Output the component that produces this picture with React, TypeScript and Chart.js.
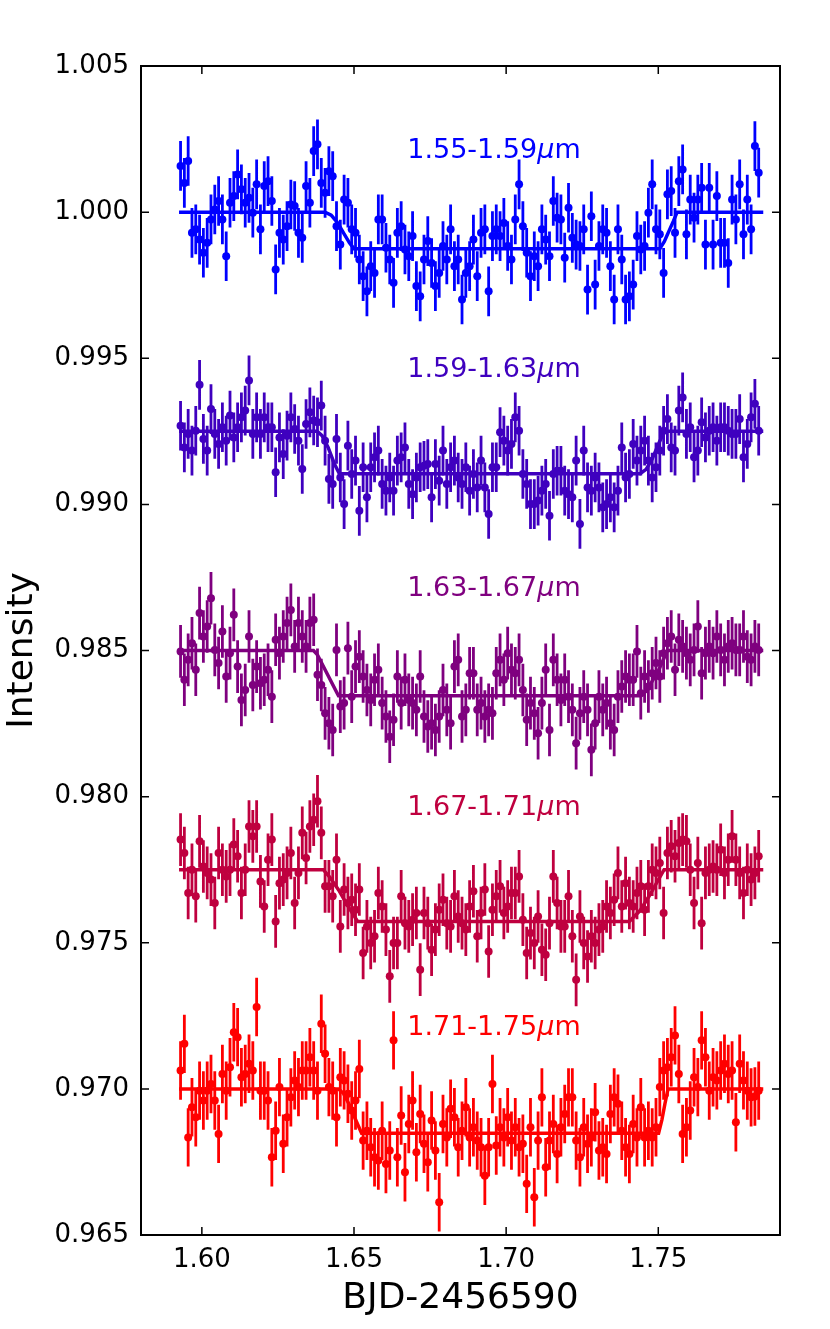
import React, { useEffect, useRef } from "react";
import { Chart, registerables } from "chart.js";

Chart.register(...registerables);

// ============================================================================
// DATA
// ============================================================================

const times = [
  1.59300, 1.59425, 1.59550, 1.59675, 1.59800, 1.59925, 1.60050, 1.60175, 1.60300, 1.60425,
  1.60550, 1.60675, 1.60800, 1.60925, 1.61050, 1.61175, 1.61300, 1.61425, 1.61550, 1.61675,
  1.61800, 1.61925, 1.62050, 1.62175, 1.62300, 1.62425, 1.62550, 1.62675, 1.62800, 1.62925,
  1.63050, 1.63175, 1.63300, 1.63425, 1.63550, 1.63675, 1.63800, 1.63925, 1.64050, 1.64175,
  1.64300, 1.64425, 1.64550, 1.64675, 1.64800, 1.64925, 1.65050, 1.65175, 1.65300, 1.65425,
  1.65550, 1.65675, 1.65800, 1.65925, 1.66050, 1.66175, 1.66300, 1.66425, 1.66550, 1.66675,
  1.66800, 1.66925, 1.67050, 1.67175, 1.67300, 1.67425, 1.67550, 1.67675, 1.67800, 1.67925,
  1.68050, 1.68175, 1.68300, 1.68425, 1.68550, 1.68675, 1.68800, 1.68925, 1.69050, 1.69175,
  1.69300, 1.69425, 1.69550, 1.69675, 1.69800, 1.69925, 1.70050, 1.70175, 1.70300, 1.70425,
  1.70550, 1.70675, 1.70800, 1.70925, 1.71050, 1.71175, 1.71300, 1.71425, 1.71550, 1.71675,
  1.71800, 1.71925, 1.72050, 1.72175, 1.72300, 1.72425, 1.72550, 1.72675, 1.72800, 1.72925,
  1.73050, 1.73175, 1.73300, 1.73425, 1.73550, 1.73675, 1.73800, 1.73925, 1.74050, 1.74175,
  1.74300, 1.74425, 1.74550, 1.74675, 1.74800, 1.74925, 1.75050, 1.75175, 1.75300, 1.75425,
  1.75550, 1.75675, 1.75800, 1.75925, 1.76050, 1.76175, 1.76300, 1.76425, 1.76550, 1.76675,
  1.76800, 1.76925, 1.77050, 1.77175, 1.77300, 1.77425, 1.77550, 1.77675, 1.77800, 1.77925,
  1.78050, 1.78175, 1.78300,
];

const band1 = [
  1.00158, 1.00100, 1.00175, 0.99929, 0.99941, 0.99906, 0.99861, 0.99895, 0.99975, 1.00009,
  1.00038, 0.99975, 0.99849, 1.00032, 1.00055, 1.00129, 1.00078, 1.00032, 1.00049, 0.99998,
  1.00095, 0.99941, 1.00089, 1.00106, 1.00038, 0.99804, 0.99929, 0.99906, 0.99952, 1.00026,
  1.00021, 0.99929, 0.99912, 1.00089, 1.00032, 1.00209, 1.00232, 1.00100, 1.00066, 1.00140,
  1.00123, 0.99952, 0.99889, 1.00043, 1.00032, 0.99941, 0.99929, 0.99838, 0.99781, 0.99729,
  0.99815, 0.99792, 0.99975, 0.99975, 0.99878, 0.99838, 0.99758, 0.99929, 0.99952, 0.99872,
  0.99849, 0.99918, 0.99747, 0.99712, 0.99838, 0.99901, 0.99826, 0.99747, 0.99792, 0.99884,
  0.99838, 0.99941, 0.99815, 0.99838, 0.99701, 0.99792, 0.99815, 0.99906, 0.99781, 0.99929,
  0.99941, 0.99729, 0.99918, 0.99941, 0.99918, 0.99963, 0.99884, 0.99838, 0.99975, 1.00095,
  0.99952, 0.99861, 0.99781, 0.99849, 0.99815, 0.99941, 0.99906, 0.99849, 1.00038, 0.99981,
  0.99975, 0.99844, 1.00015, 0.99912, 0.99889, 0.99884, 0.99941, 0.99735, 0.99986, 0.99752,
  0.99884, 0.99941, 0.99929, 0.99815, 0.99701, 0.99941, 0.99838, 0.99701, 0.99712, 0.99752,
  0.99918, 0.99872, 0.99884, 0.99998, 1.00095, 0.99941, 0.99924, 0.99792, 1.00061, 1.00072,
  0.99929, 1.00106, 1.00146, 0.99924, 1.00043, 0.99981, 1.00043, 1.00083, 0.99889, 1.00083,
  0.99889, 1.00055, 0.99895, 0.99895, 0.99826, 1.00043, 0.99975, 1.00095, 0.99924, 1.00043,
  0.99941, 1.00226, 1.00135,
];

const band2 = [
  0.99269, 0.99195, 0.99241, 0.99184, 0.99252, 0.99409, 0.99224, 0.99184, 0.99326, 0.99241,
  0.99207, 0.99264, 0.99218, 0.99304, 0.99229, 0.99264, 0.99298, 0.99321, 0.99424, 0.99241,
  0.99298, 0.99241, 0.99298, 0.99264, 0.99264, 0.99110, 0.99229, 0.99172, 0.99235, 0.99298,
  0.99258, 0.99218, 0.99121, 0.99275, 0.99315, 0.99287, 0.99281, 0.99338, 0.99218, 0.99087,
  0.99070, 0.99224, 0.99092, 0.99001, 0.99201, 0.99104, 0.99150, 0.98978, 0.99127, 0.99024,
  0.99127, 0.99161, 0.99184, 0.99070, 0.99047, 0.99092, 0.99047, 0.99150, 0.99161, 0.99195,
  0.99070, 0.99035, 0.99092, 0.99127, 0.99132, 0.99138, 0.99024, 0.99138, 0.99081, 0.99184,
  0.99070, 0.99127, 0.99150, 0.99092, 0.99070, 0.99127, 0.99047, 0.99104, 0.99058, 0.99150,
  0.99058, 0.98967, 0.99127, 0.99127, 0.99247, 0.99218, 0.99184, 0.99207, 0.99298, 0.99252,
  0.99104, 0.99070, 0.99001, 0.99001, 0.99013, 0.99047, 0.99070, 0.98961, 0.99104, 0.99115,
  0.99115, 0.99047, 0.99035, 0.99024, 0.99150, 0.98933, 0.99184, 0.99058, 0.99047, 0.99092,
  0.99058, 0.98990, 0.99001, 0.99024, 0.98990, 0.99047, 0.99195, 0.99092, 0.99104, 0.99207,
  0.99150, 0.99184, 0.99218, 0.99150, 0.99092, 0.99127, 0.99184, 0.99252, 0.99292, 0.99195,
  0.99184, 0.99321, 0.99366, 0.99241, 0.99264, 0.99161, 0.99184, 0.99281, 0.99229, 0.99252,
  0.99264, 0.99218, 0.99264, 0.99264, 0.99252, 0.99241, 0.99241, 0.99292, 0.99161, 0.99207,
  0.99298, 0.99344, 0.99252,
];

const band3 = [
  0.98497, 0.98400, 0.98468, 0.98525, 0.98434, 0.98628, 0.98548, 0.98582, 0.98679, 0.98502,
  0.98457, 0.98565, 0.98411, 0.98491, 0.98622, 0.98445, 0.98331, 0.98365, 0.98548, 0.98382,
  0.98445, 0.98388, 0.98400, 0.98434, 0.98342, 0.98537, 0.98491, 0.98548, 0.98594, 0.98639,
  0.98514, 0.98594, 0.98548, 0.98514, 0.98594, 0.98605, 0.98417, 0.98382, 0.98285, 0.98251,
  0.98228, 0.98502, 0.98308, 0.98320, 0.98508, 0.98342, 0.98445, 0.98479, 0.98411, 0.98365,
  0.98331, 0.98400, 0.98434, 0.98320, 0.98274, 0.98205, 0.98263, 0.98411, 0.98320, 0.98400,
  0.98331, 0.98320, 0.98297, 0.98411, 0.98274, 0.98240, 0.98251, 0.98228, 0.98274, 0.98365,
  0.98297, 0.98251, 0.98445, 0.98468, 0.98274, 0.98297, 0.98422, 0.98422, 0.98297, 0.98320,
  0.98274, 0.98297, 0.98285, 0.98422, 0.98468, 0.98400, 0.98491, 0.98434, 0.98422, 0.98468,
  0.98365, 0.98263, 0.98320, 0.98285, 0.98217, 0.98320, 0.98434, 0.98228, 0.98468, 0.98400,
  0.98331, 0.98400, 0.98342, 0.98297, 0.98183, 0.98285, 0.98342, 0.98297, 0.98160, 0.98251,
  0.98342, 0.98297, 0.98320, 0.98251, 0.98228, 0.98342, 0.98377, 0.98411, 0.98400, 0.98400,
  0.98497, 0.98354, 0.98411, 0.98377, 0.98422, 0.98457, 0.98411, 0.98491, 0.98525, 0.98548,
  0.98434, 0.98537, 0.98514, 0.98491, 0.98468, 0.98502, 0.98582, 0.98422, 0.98491, 0.98514,
  0.98491, 0.98548, 0.98502, 0.98468, 0.98514, 0.98525, 0.98502, 0.98502, 0.98548, 0.98479,
  0.98468, 0.98514, 0.98502,
];

const band4 = [
  0.97853, 0.97807, 0.97670, 0.97750, 0.97659, 0.97847, 0.97761, 0.97739, 0.97716, 0.97636,
  0.97807, 0.97750, 0.97727, 0.97750, 0.97836, 0.97796, 0.97670, 0.97750, 0.97898, 0.97864,
  0.97898, 0.97710, 0.97624, 0.97784, 0.97853, 0.97573, 0.97704, 0.97716, 0.97739, 0.97807,
  0.97636, 0.97739, 0.97876, 0.97790, 0.97898, 0.97921, 0.97984, 0.97876, 0.97693, 0.97693,
  0.97659, 0.97784, 0.97556, 0.97682, 0.97636, 0.97647, 0.97613, 0.97682, 0.97465, 0.97556,
  0.97499, 0.97522, 0.97670, 0.97624, 0.97545, 0.97385, 0.97499, 0.97499, 0.97659, 0.97567,
  0.97556, 0.97579, 0.97602, 0.97408, 0.97602, 0.97567, 0.97476, 0.97545, 0.97613, 0.97647,
  0.97567, 0.97556, 0.97659, 0.97590, 0.97567, 0.97545, 0.97624, 0.97676, 0.97522, 0.97602,
  0.97682, 0.97470, 0.97613, 0.97659, 0.97693, 0.97602, 0.97624, 0.97670, 0.97670, 0.97727,
  0.97579, 0.97465, 0.97533, 0.97499, 0.97590, 0.97476, 0.97459, 0.97567, 0.97727, 0.97636,
  0.97556, 0.97556, 0.97659, 0.97522, 0.97373, 0.97590, 0.97499, 0.97453, 0.97522, 0.97499,
  0.97545, 0.97556, 0.97624, 0.97602, 0.97647, 0.97739, 0.97624, 0.97704, 0.97636, 0.97624,
  0.97670, 0.97693, 0.97613, 0.97693, 0.97750, 0.97739, 0.97773, 0.97602, 0.97807, 0.97830,
  0.97796, 0.97841, 0.97853, 0.97847, 0.97750, 0.97636, 0.97773, 0.97567, 0.97739, 0.97750,
  0.97761, 0.97750, 0.97818, 0.97739, 0.97784, 0.97864, 0.97784, 0.97739, 0.97670, 0.97750,
  0.97716, 0.97739, 0.97796,
];

const band5 = [
  0.97063, 0.97154, 0.96834, 0.96937, 0.96903, 0.96994, 0.96960, 0.96994, 0.97017, 0.96960,
  0.96846, 0.97051, 0.96994, 0.97074, 0.97194, 0.97177, 0.97040, 0.97051, 0.97086, 0.97063,
  0.97280, 0.96994, 0.96994, 0.96960, 0.96766, 0.96857, 0.97006, 0.96812, 0.96903, 0.96971,
  0.97029, 0.97006, 0.97063, 0.97063, 0.97108, 0.97063, 0.96994, 0.97223, 0.97120, 0.97006,
  0.96994, 0.96903, 0.97040, 0.97029, 0.96983, 0.96926, 0.96960, 0.97068, 0.96823, 0.96857,
  0.96800, 0.96766, 0.96755, 0.96857, 0.96743, 0.96789, 0.97166, 0.96766, 0.96909, 0.96715,
  0.96880, 0.96960, 0.96783, 0.96914, 0.96812, 0.96749, 0.96892, 0.96789, 0.96612, 0.96880,
  0.96834, 0.96932, 0.96903, 0.96800, 0.96857, 0.96937, 0.96834, 0.96869, 0.96823, 0.96800,
  0.96703, 0.96800, 0.97017, 0.96806, 0.96869, 0.96834, 0.96903, 0.96823, 0.96869, 0.96800,
  0.96812, 0.96675, 0.96869, 0.96629, 0.96823, 0.96971, 0.96732, 0.96823, 0.96880, 0.96777,
  0.96869, 0.96914, 0.96971, 0.96971, 0.96823, 0.96766, 0.96869, 0.96812, 0.96834, 0.96920,
  0.96789, 0.96800, 0.96777, 0.96914, 0.96971, 0.96949, 0.96857, 0.96800, 0.96777, 0.96880,
  0.96834, 0.96937, 0.96834, 0.96857, 0.96834, 0.96869, 0.97006, 0.97063, 0.97074, 0.97108,
  0.97183, 0.97051, 0.96846, 0.96869, 0.96926, 0.97040, 0.97006, 0.97166, 0.97108, 0.96994,
  0.97040, 0.97029, 0.97063, 0.97086, 0.97051, 0.97063, 0.96886, 0.97086, 0.97029, 0.96994,
  0.96971, 0.96974, 0.96994,
];

// fitted eclipse models, read as vertices off the picture
const modelT1 = [1.5925, 1.6405, 1.6425, 1.6445, 1.6465, 1.6485, 1.6500, 1.7505, 1.7520, 1.7535, 1.7550, 1.7562, 1.7845];
const modelV1 = [1.00000, 1.00000, 0.99990, 0.99965, 0.99930, 0.99895, 0.99875, 0.99875, 0.99900, 0.99935, 0.99970, 1.00000, 1.00000];
const modelT2 = [1.5925, 1.6379, 1.6395, 1.6415, 1.6435, 1.6452, 1.7440, 1.7460, 1.7480, 1.7500, 1.7520, 1.7845];
const modelV2 = [0.99250, 0.99250, 0.99235, 0.99195, 0.99140, 0.99105, 0.99105, 0.99120, 0.99155, 0.99205, 0.99250, 0.99250];
const modelT3 = [1.5925, 1.6367, 1.6380, 1.6449, 1.7440, 1.7460, 1.7500, 1.7530, 1.7845];
const modelV3 = [0.98500, 0.98500, 0.98485, 0.98345, 0.98345, 0.98360, 0.98430, 0.98500, 0.98500];
const modelT4 = [1.5925, 1.6399, 1.6420, 1.6450, 1.6480, 1.6512, 1.7405, 1.7440, 1.7470, 1.7500, 1.7519, 1.7845];
const modelV4 = [0.97750, 0.97750, 0.97725, 0.97680, 0.97625, 0.97573, 0.97573, 0.97610, 0.97660, 0.97715, 0.97750, 0.97750];
const modelT5 = [1.5925, 1.6449, 1.6465, 1.6485, 1.6505, 1.6525, 1.7501, 1.7512, 1.7522, 1.7532, 1.7845];
const modelV5 = [0.97000, 0.97000, 0.96985, 0.96945, 0.96895, 0.96848, 0.96848, 0.96895, 0.96950, 0.97000, 0.97000];

const bandNames = ["1.55-1.59", "1.59-1.63", "1.63-1.67", "1.67-1.71", "1.71-1.75"];
const bandErrors = [0.00085, 0.00085, 0.0009, 0.0009, 0.001];
const bandColors = ["#0000ff", "#3f00bf", "#7f007f", "#bf003f", "#ff0000"];
const labelX = 1.6675;
const labelY = [1.0021, 0.9946, 0.9871, 0.9796, 0.9721];

const xTicks = [1.6, 1.65, 1.7, 1.75];
const yTicks = [0.965, 0.97, 0.975, 0.98, 0.985, 0.99, 0.995, 1.0, 1.005];

const bands = [band1, band2, band3, band4, band5];
const modelTs = [modelT1, modelT2, modelT3, modelT4, modelT5];
const modelVs = [modelV1, modelV2, modelV3, modelV4, modelV5];

// ============================================================================
// PLUGINS
// ============================================================================

const FONT = '"DejaVu Sans", sans-serif';

const errorBarPlugin = {
  id: "errorBars",
  beforeDatasetsDraw(chart: any) {
    const { ctx, scales } = chart;
    ctx.save();
    chart.data.datasets.forEach((ds: any) => {
      if (ds.errorBar == null) return;
      ctx.strokeStyle = ds.backgroundColor;
      ctx.lineWidth = 2.8;
      ctx.beginPath();
      ds.data.forEach((p: any) => {
        const px = scales.x.getPixelForValue(p.x);
        ctx.moveTo(px, scales.y.getPixelForValue(p.y - ds.errorBar));
        ctx.lineTo(px, scales.y.getPixelForValue(p.y + ds.errorBar));
      });
      ctx.stroke();
    });
    ctx.restore();
  },
};

const bandLabelPlugin = {
  id: "bandLabels",
  afterDatasetsDraw(chart: any) {
    const { ctx, scales } = chart;
    ctx.save();
    ctx.textBaseline = "middle";
    ctx.textAlign = "left";
    bandNames.forEach((name, k) => {
      let px = scales.x.getPixelForValue(labelX);
      const py = scales.y.getPixelForValue(labelY[k]);
      ctx.fillStyle = bandColors[k];
      ctx.font = `27px ${FONT}`;
      ctx.fillText(name, px, py);
      px += ctx.measureText(name).width;
      ctx.font = `oblique 27px ${FONT}`;
      ctx.fillText("μ", px, py);
      px += ctx.measureText("μ").width;
      ctx.font = `27px ${FONT}`;
      ctx.fillText("m", px, py);
    });
    ctx.restore();
  },
};

const framePlugin = {
  id: "frame",
  afterDraw(chart: any) {
    const { ctx, chartArea: a, scales } = chart;
    ctx.save();
    ctx.strokeStyle = "#000";
    ctx.lineWidth = 1.5;
    ctx.beginPath();
    yTicks.forEach((v) => {
      const py = scales.y.getPixelForValue(v);
      ctx.moveTo(a.left, py);
      ctx.lineTo(a.left + 8, py);
      ctx.moveTo(a.right - 8, py);
      ctx.lineTo(a.right, py);
    });
    xTicks.forEach((v) => {
      const px = scales.x.getPixelForValue(v);
      ctx.moveTo(px, a.bottom);
      ctx.lineTo(px, a.bottom - 8);
      ctx.moveTo(px, a.top);
      ctx.lineTo(px, a.top + 8);
    });
    ctx.stroke();
    ctx.lineWidth = 2;
    ctx.strokeRect(a.left, a.top, a.right - a.left, a.bottom - a.top);
    ctx.restore();
  },
};

// ============================================================================
// COMPONENT
// ============================================================================

export default function App() {
  const canvasRef = useRef<HTMLCanvasElement | null>(null);
  const chartRef = useRef<Chart | null>(null);

  useEffect(() => {
    document.body.style.margin = "0";
    const ctx = canvasRef.current?.getContext("2d");
    if (!ctx) return;

    const datasets: any[] = [];
    bands.forEach((vals, k) => {
      datasets.push({
        label: bandNames[k],
        data: times.map((t, i) => ({ x: t, y: vals[i] })),
        errorBar: bandErrors[k],
        backgroundColor: bandColors[k],
        borderColor: bandColors[k],
        pointRadius: 4,
        pointBorderWidth: 0,
        showLine: false,
        order: 10 - k,
      });
      datasets.push({
        label: bandNames[k] + " model",
        data: modelTs[k].map((t, i) => ({ x: t, y: modelVs[k][i] })),
        borderColor: bandColors[k],
        backgroundColor: bandColors[k],
        borderWidth: 3.5,
        pointRadius: 0,
        showLine: true,
        fill: false,
        order: 0,
      });
    });

    chartRef.current = new Chart(ctx, {
      type: "scatter",
      data: { datasets },
      options: {
        responsive: false,
        animation: false,
        events: [],
        layout: { padding: { left: 0, right: 50, top: 66, bottom: 0 } },
        plugins: { legend: { display: false }, tooltip: { enabled: false } },
        scales: {
          x: {
            type: "linear",
            min: 1.58,
            max: 1.79,
            afterBuildTicks: (scale: any) => {
              scale.ticks = xTicks.map((value) => ({ value }));
            },
            afterFit: (scale: any) => {
              scale.height = 94;
            },
            grid: { display: false, drawTicks: false },
            border: { display: false },
            ticks: {
              color: "#000",
              padding: 10,
              maxRotation: 0,
              font: { family: FONT, size: 26 },
              callback: (v: any) => Number(v).toFixed(2),
            },
            title: {
              display: true,
              text: "BJD-2456590",
              color: "#000",
              font: { family: FONT, size: 36 },
              padding: { top: 0, bottom: 9 },
            },
          },
          y: {
            type: "linear",
            min: 0.965,
            max: 1.005,
            afterBuildTicks: (scale: any) => {
              scale.ticks = yTicks.map((value) => ({ value }));
            },
            afterFit: (scale: any) => {
              scale.width = 141;
            },
            grid: { display: false, drawTicks: false },
            border: { display: false },
            ticks: {
              color: "#000",
              padding: 12,
              font: { family: FONT, size: 26 },
              callback: (v: any) => Number(v).toFixed(3),
            },
            title: {
              display: true,
              text: "Intensity",
              color: "#000",
              font: { family: FONT, size: 36 },
              padding: { top: 1, bottom: 0 },
            },
          },
        },
      },
      plugins: [errorBarPlugin, bandLabelPlugin, framePlugin],
    } as any);

    return () => {
      if (chartRef.current) {
        chartRef.current.destroy();
        chartRef.current = null;
      }
    };
  }, []);

  return (
    <div style={{ width: 830, height: 1329, background: "#fff" }}>
      <canvas ref={canvasRef} width={830} height={1329} />
    </div>
  );
}
